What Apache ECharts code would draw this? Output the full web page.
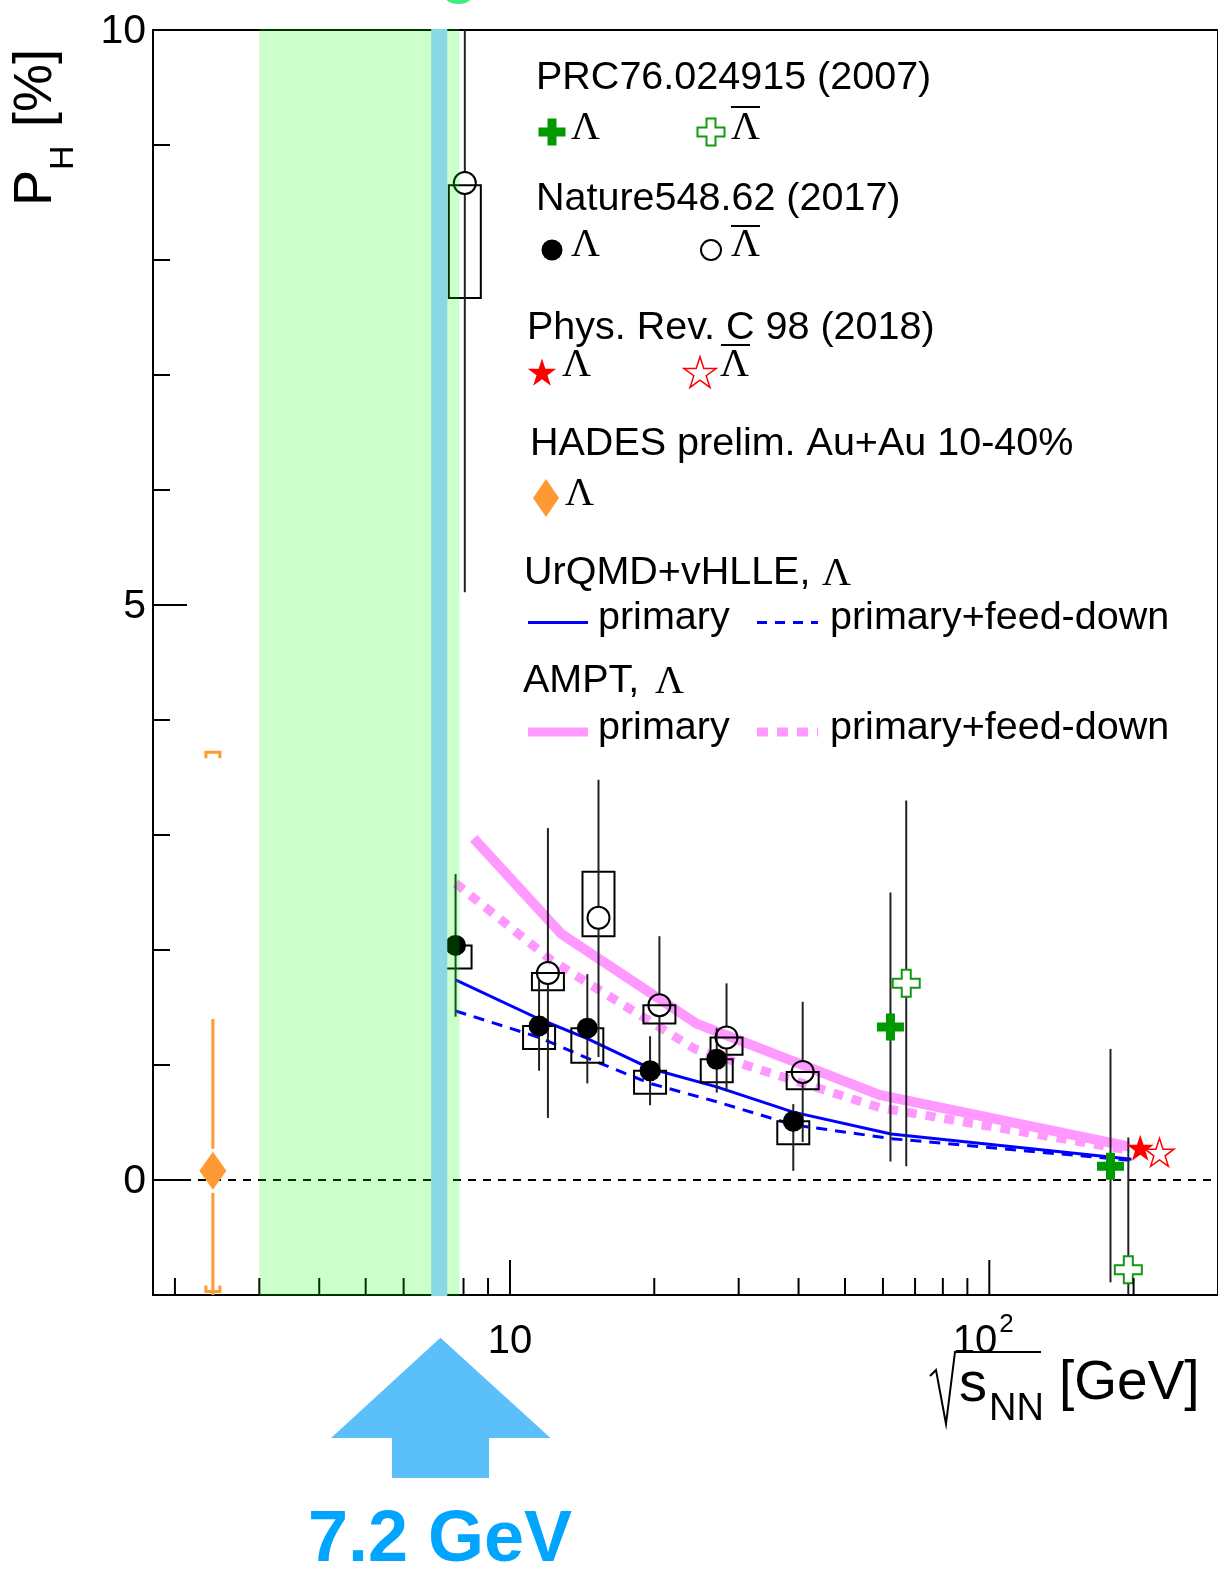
<!DOCTYPE html>
<html><head><meta charset="utf-8">
<script src="https://cdn.jsdelivr.net/npm/echarts/dist/echarts.min.js"></script>
<style>html,body{margin:0;padding:0;background:#fff}#c{width:1218px;height:1569px}</style>
</head><body><div id="c"></div>
<script>
const FONT = 'Liberation Sans, Arial, Helvetica, sans-serif';
const SERIF = 'Liberation Serif, Times New Roman, serif';

// ---- axes ----
const xMin = 1.8, xMax = 300, yMin = -1, yMax = 10;
const xMinorTicks = [2,3,4,5,6,7,8,9,20,30,40,50,60,70,80,90,200];
const xMajorTicks = [10,100];
const xTickLabelBase = ['10','10'];
const xTickLabelExp = ['','2'];
const yMinorTicks = [1,2,3,4,6,7,8,9];
const yMajorTicks = [0,5,10];
const yTickLabels = ['0','5','10'];

// ---- shaded bands ----
const greenBand = [3.0, 7.85];
const blueBand = [6.85, 7.4];

// ---- STAR, Nature 548, 62 (2017) ----
const natureLamE = [7.7, 11.5, 14.5, 19.6, 27, 39];
const natureLamP = [2.04, 1.34, 1.32, 0.95, 1.05, 0.51];
const natureLamStatLo = [1.42, 0.95, 0.84, 0.65, 0.76, 0.08];
const natureLamStatHi = [2.66, 1.74, 1.79, 1.25, 1.32, 0.66];
const natureLamSysLo = [1.84, 1.14, 1.02, 0.75, 0.85, 0.31];
const natureLamSysHi = [2.04, 1.34, 1.32, 0.95, 1.05, 0.51];

const natureAntiE = [8.05, 12.0, 15.3, 20.5, 28.3, 40.8];
const natureAntiP = [8.67, 1.80, 2.28, 1.52, 1.24, 0.94];
const natureAntiStatLo = [5.11, 0.54, 1.07, 0.91, 0.77, 0.33];
const natureAntiStatHi = [12.2, 3.06, 3.48, 2.12, 1.71, 1.55];
const natureAntiSysLo = [7.67, 1.65, 2.12, 1.36, 1.09, 0.79];
const natureAntiSysHi = [8.65, 1.80, 2.68, 1.52, 1.24, 0.94];

// ---- STAR, PRC 76, 024915 (2007) ----
const prcLamE = [62.2, 179];
const prcLamP = [1.33, 0.12];
const prcLamStatLo = [0.16, -0.89];
const prcLamStatHi = [2.50, 1.14];
const prcAntiE = [67.1, 195];
const prcAntiP = [1.71, -0.78];
const prcAntiStatLo = [0.12, -1.93];
const prcAntiStatHi = [3.30, 0.37];

// ---- STAR, Phys. Rev. C 98 (2018) ----
const prc98LamE = [206.5];
const prc98LamP = [0.28];
const prc98AntiE = [226.5];
const prc98AntiP = [0.24];

// ---- HADES preliminary ----
const hadesE = [2.4];
const hadesP = [0.08];
const hadesStatLo = [-1.24];
const hadesStatHi = [1.40];
const hadesSysLo = [-0.97];
const hadesSysHi = [3.72];

// ---- models ----
const urqmdE = [7.7, 11.5, 14.5, 19.6, 27, 39, 62.4, 198];
const urqmdPrim = [1.74, 1.40, 1.23, 0.97, 0.81, 0.59, 0.40, 0.18];
const urqmdFeed = [1.47, 1.24, 1.06, 0.84, 0.68, 0.48, 0.36, 0.17];
const amptPrimE = [8.4, 12.8, 24.5, 59, 196];
const amptPrim = [2.97, 2.14, 1.36, 0.74, 0.29];
const amptFeedE = [7.7, 12.2, 24.3, 59, 196];
const amptFeed = [2.58, 1.91, 1.14, 0.63, 0.26];

// ---------------------------------------------------------------
const pair = (E, P) => E.map((e, i) => [e, P[i]]);
const errData = (E, lo, hi, P) => E.map((e, i) => [e, lo[i], hi[i], P[i]]);
const boxData = (E, lo, hi) => E.map((e, i) => [e, lo[i], hi[i]]);
const clampY = v => Math.max(yMin, Math.min(yMax, v));

function errSeries(data, color, width, gap, z) {
  return {
    type: 'custom', coordinateSystem: 'cartesian2d', z: z, silent: true, data: data,
    encode: { x: 0, y: 3 },
    renderItem: function (params, api) {
      const x = api.value(0), lo = clampY(api.value(1)), hi = clampY(api.value(2)), p = api.value(3);
      const a = api.coord([x, hi]), b = api.coord([x, lo]), c = api.coord([x, p]);
      const st = { stroke: color, lineWidth: width };
      if (!gap) return { type: 'line', shape: { x1: a[0], y1: a[1], x2: b[0], y2: b[1] }, style: st };
      const ch = [];
      if (a[1] < c[1] - gap) ch.push({ type: 'line', shape: { x1: a[0], y1: a[1], x2: a[0], y2: c[1] - gap }, style: st });
      if (b[1] > c[1] + gap) ch.push({ type: 'line', shape: { x1: b[0], y1: c[1] + gap, x2: b[0], y2: b[1] }, style: st });
      return { type: 'group', children: ch };
    }
  };
}
function boxSeries(data, z) {
  return {
    type: 'custom', coordinateSystem: 'cartesian2d', z: z, silent: true, data: data,
    encode: { x: 0, y: 2 },
    renderItem: function (params, api) {
      const x = api.value(0);
      const a = api.coord([x, clampY(api.value(2))]), b = api.coord([x, clampY(api.value(1))]);
      return { type: 'rect', shape: { x: a[0] - 16, y: a[1], width: 32, height: b[1] - a[1] },
        style: { fill: 'none', stroke: '#000', lineWidth: 2 } };
    }
  };
}
function bandSeries(band, fill, z) {
  return {
    type: 'custom', coordinateSystem: 'cartesian2d', z: z, silent: true,
    data: [[band[0], yMax, band[1], yMin]],
    encode: { x: 0, y: 1 },
    renderItem: function (params, api) {
      const a = api.coord([api.value(0), yMax]), b = api.coord([api.value(2), yMin]);
      return { type: 'rect', shape: { x: a[0], y: a[1] - 1, width: b[0] - a[0], height: b[1] - a[1] + 2 }, style: { fill: fill } };
    }
  };
}

const crossPath = 'path://M3,0H6V3H9V6H6V9H3V6H0V3H3Z';
const starPath = 'path://M50,0L61.8,35.1L98.1,35.1L68.7,56.7L79.4,91L50,70L20.6,91L31.3,56.7L1.9,35.1L38.2,35.1Z';

const xTickData = xMinorTicks.map(v => [v, yMin, 0]).concat(xMajorTicks.map(v => [v, yMin, 1]));
const yTickData = yMinorTicks.map(v => [xMin, v, 0]).concat(yMajorTicks.map(v => [xMin, v, 1]));

const series = [
  // zero line
  { type: 'line', z: 2, silent: true, data: pair([xMin, xMax], [0, 0]), symbol: 'none',
    lineStyle: { color: '#000', width: 2, type: [8, 7] } },
  // models
  { type: 'line', z: 2, silent: true, data: pair(amptPrimE, amptPrim), symbol: 'none',
    lineStyle: { color: '#ff99ff', width: 10, join: 'miter' } },
  { type: 'line', z: 2, silent: true, data: pair(amptFeedE, amptFeed), symbol: 'none',
    lineStyle: { color: '#ff99ff', width: 9, type: [10, 9] } },
  { type: 'line', z: 2, silent: true, data: pair(urqmdE, urqmdPrim), symbol: 'none',
    lineStyle: { color: '#0000ff', width: 3 } },
  { type: 'line', z: 2, silent: true, data: pair(urqmdE, urqmdFeed), symbol: 'none',
    lineStyle: { color: '#0000ff', width: 3, type: [11, 8] } },
  // systematic boxes
  boxSeries(boxData(natureLamE, natureLamSysLo, natureLamSysHi), 3),
  boxSeries(boxData(natureAntiE, natureAntiSysLo, natureAntiSysHi), 3),
  // error bars
  errSeries(errData(natureLamE, natureLamStatLo, natureLamStatHi, natureLamP), '#222', 2, 0, 4),
  errSeries(errData(natureAntiE, natureAntiStatLo, natureAntiStatHi, natureAntiP), '#222', 2, 11, 4),
  errSeries(errData(prcLamE, prcLamStatLo, prcLamStatHi, prcLamP), '#222', 2, 0, 4),
  errSeries(errData(prcAntiE, prcAntiStatLo, prcAntiStatHi, prcAntiP), '#222', 2, 0, 4),
  errSeries(errData(hadesE, hadesStatLo, hadesStatHi, hadesP), '#ff9933', 3, 22, 4),
  // HADES systematic brackets
  { type: 'custom', coordinateSystem: 'cartesian2d', z: 4, silent: true,
    data: boxData(hadesE, hadesSysLo, hadesSysHi), encode: { x: 0, y: 2 },
    renderItem: function (params, api) {
      const x = api.value(0);
      const t = api.coord([x, clampY(api.value(2))]), b = api.coord([x, clampY(api.value(1))]);
      const st = { stroke: '#ff9933', lineWidth: 3, fill: 'none' };
      return { type: 'group', children: [
        { type: 'polyline', shape: { points: [[t[0] - 7, t[1] + 6], [t[0] - 7, t[1]], [t[0] + 7, t[1]], [t[0] + 7, t[1] + 6]] }, style: st },
        { type: 'polyline', shape: { points: [[b[0] - 7, b[1] - 6], [b[0] - 7, b[1]], [b[0] + 7, b[1]], [b[0] + 7, b[1] - 6]] }, style: st }
      ] };
    } },
  // markers
  { type: 'scatter', z: 5, silent: true, data: pair(natureLamE, natureLamP), symbol: 'circle', symbolSize: 21,
    itemStyle: { color: '#000', opacity: 1 } },
  { type: 'scatter', z: 5, silent: true, data: pair(natureAntiE, natureAntiP), symbol: 'circle', symbolSize: 22,
    itemStyle: { color: 'rgba(0,0,0,0)', borderColor: '#000', borderWidth: 2, opacity: 1 } },
  { type: 'scatter', z: 5, silent: true, data: pair(prcLamE, prcLamP), symbol: crossPath, symbolSize: 27,
    itemStyle: { color: '#009900', opacity: 1 } },
  { type: 'scatter', z: 5, silent: true, data: pair(prcAntiE, prcAntiP), symbol: crossPath, symbolSize: 27,
    itemStyle: { color: '#ffffff', borderColor: '#119911', borderWidth: 2, opacity: 1 } },
  { type: 'scatter', z: 5, silent: true, data: pair(prc98LamE, prc98LamP), symbol: starPath, symbolSize: [27, 26],
    itemStyle: { color: '#ff0000', opacity: 1 } },
  { type: 'scatter', z: 5, silent: true, data: pair(prc98AntiE, prc98AntiP), symbol: starPath, symbolSize: [29, 28],
    itemStyle: { color: 'rgba(0,0,0,0)', borderColor: '#ff0000', borderWidth: 1.5, opacity: 1 } },
  { type: 'scatter', z: 5, silent: true, data: pair(hadesE, hadesP), symbol: 'diamond', symbolSize: [27, 38],
    itemStyle: { color: '#ff9933', opacity: 1 } },
  // ticks
  { type: 'custom', coordinateSystem: 'cartesian2d', z: 6, silent: true, data: xTickData,
    renderItem: function (params, api) {
      const p = api.coord([api.value(0), yMin]); const len = api.value(2) ? 35 : 17;
      return { type: 'line', shape: { x1: p[0], y1: p[1], x2: p[0], y2: p[1] - len }, style: { stroke: '#000', lineWidth: 2 } };
    } },
  { type: 'custom', coordinateSystem: 'cartesian2d', z: 6, silent: true, data: yTickData,
    renderItem: function (params, api) {
      const p = api.coord([xMin, api.value(1)]); const len = api.value(2) ? 34 : 17;
      return { type: 'line', shape: { x1: p[0], y1: p[1], x2: p[0] + len, y2: p[1] }, style: { stroke: '#000', lineWidth: 2 } };
    } },
  // tick labels
  { type: 'custom', coordinateSystem: 'cartesian2d', z: 6, silent: true,
    data: yMajorTicks.map((v, i) => [xMin, v, i]),
    renderItem: function (params, api) {
      const p = api.coord([xMin, api.value(1)]);
      return { type: 'text', x: p[0] - 7, y: p[1] + 2,
        style: { text: yTickLabels[api.value(2)], fontSize: 41, fontFamily: FONT, fill: '#000',
          align: 'right', textAlign: 'right', verticalAlign: 'middle', textVerticalAlign: 'middle' } };
    } },
  { type: 'custom', coordinateSystem: 'cartesian2d', z: 6, silent: true,
    data: xMajorTicks.map((v, i) => [v, yMin, i]),
    renderItem: function (params, api) {
      const p = api.coord([api.value(0), yMin]); const i = api.value(2);
      const base = xTickLabelBase[i], ex = xTickLabelExp[i];
      const baseline = p[1] + 61;
      if (!ex) {
        return { type: 'text', x: p[0], y: baseline - 0.3465 * 40,
          style: { text: base, fontSize: 40, fontFamily: FONT, fill: '#000', align: 'center', textAlign: 'center', verticalAlign: 'middle', textVerticalAlign: 'middle' } };
      }
      return { type: 'group', children: [
        { type: 'text', x: p[0] + 8, y: baseline - 0.3465 * 40,
          style: { text: base, fontSize: 40, fontFamily: FONT, fill: '#000', align: 'right', textAlign: 'right', verticalAlign: 'middle', textVerticalAlign: 'middle' } },
        { type: 'text', x: p[0] + 10, y: baseline - 22 - 0.3465 * 26,
          style: { text: ex, fontSize: 26, fontFamily: FONT, fill: '#000', align: 'left', textAlign: 'left', verticalAlign: 'middle', textVerticalAlign: 'middle' } }
      ] };
    } },
  // bands (drawn over the data, translucent green + cyan)
  bandSeries(greenBand, 'rgba(0,255,0,0.2)', 8),
  bandSeries(blueBand, '#8ad8e6', 9)
];

// ---- annotation / legend graphics ----
function txt(s, x, base, size, opt) {
  opt = opt || {};
  const fam = opt.serif ? SERIF : FONT;
  const k = opt.serif ? 0.3375 : 0.3465;
  return { type: 'text', x: x, y: base - k * size, z: 100, silent: true,
    style: { text: s, fontSize: size, fontFamily: fam, fontWeight: opt.weight || 'normal', fill: opt.color || '#000',
      align: opt.align || 'left', textAlign: opt.align || 'left', verticalAlign: 'middle', textVerticalAlign: 'middle' } };
}
function rtxt(s, baseX, startY, size) {
  return { type: 'text', x: baseX - 0.3465 * size, y: startY, rotation: Math.PI / 2, z: 100, silent: true,
    style: { text: s, fontSize: size, fontFamily: FONT, fill: '#000', align: 'left', textAlign: 'left', verticalAlign: 'middle', textVerticalAlign: 'middle' } };
}
function line(x1, y1, x2, y2, color, w, dash) {
  return { type: 'line', z: 100, silent: true, shape: { x1: x1, y1: y1, x2: x2, y2: y2 },
    style: { stroke: color, lineWidth: w, lineDash: dash || null } };
}
function crossPts(cx, cy, s) {
  const h = s / 2, a = s / 6;
  return [[cx - a, cy - h], [cx + a, cy - h], [cx + a, cy - a], [cx + h, cy - a], [cx + h, cy + a], [cx + a, cy + a],
    [cx + a, cy + h], [cx - a, cy + h], [cx - a, cy + a], [cx - h, cy + a], [cx - h, cy - a], [cx - a, cy - a]];
}
function starPts(cx, cy, R) {
  const pts = [], r = R * 0.382;
  for (let i = 0; i < 10; i++) {
    const ang = -Math.PI / 2 + i * Math.PI / 5, rr = i % 2 ? r : R;
    pts.push([cx + rr * Math.cos(ang), cy + rr * Math.sin(ang) + R * 0.1]);
  }
  return pts;
}
function poly(pts, fill, stroke, w) {
  return { type: 'polygon', z: 100, silent: true, shape: { points: pts },
    style: { fill: fill, stroke: stroke || null, lineWidth: w || 0 } };
}

const LF = 39.5; // legend font size
const graphics = [
  // cut-off green label at top (only the descender of the "g" is inside the page)
  txt('g', 459, -6, 72, { color: '#3cee7c', align: 'center' }),
  // y title
  rtxt('P', 55, 206, 54),
  rtxt('H', 75, 170, 34),
  rtxt('[%]', 55, 127, 54),
  // x title
  { type: 'polyline', z: 100, silent: true, shape: { points: [[930, 1376], [936, 1370], [946, 1424], [955, 1352], [1041, 1352]] },
    style: { stroke: '#000', lineWidth: 2, fill: 'none' } },
  txt('s', 959, 1405, 56),
  txt('NN', 989, 1423, 38),
  txt('[GeV]', 1059, 1403, 55),
  // arrow and label
  poly([[440.4, 1337.7], [550.5, 1438], [489, 1438], [489, 1478], [392, 1478], [392, 1438], [331, 1438]], '#5bbffa'),
  txt('7.2 GeV', 440, 1566, 72, { color: '#00a5ff', align: 'center', weight: 'bold' }),
  // legend block 1
  txt('PRC76.024915 (2007)', 536, 92, LF),
  poly(crossPts(552, 132, 27), '#009900'),
  txt('Λ', 571, 142, 40, { serif: true }),
  poly(crossPts(711, 132, 27), '#ffffff', '#119911', 2),
  txt('Λ', 731, 142, 40, { serif: true }),
  line(731, 107, 760, 107, '#000', 2),
  // legend block 2
  txt('Nature548.62 (2017)', 536, 213, LF),
  { type: 'circle', z: 100, silent: true, shape: { cx: 552, cy: 250, r: 10.5 }, style: { fill: '#000' } },
  txt('Λ', 571, 259, 40, { serif: true }),
  { type: 'circle', z: 100, silent: true, shape: { cx: 711, cy: 250, r: 10 }, style: { fill: 'none', stroke: '#000', lineWidth: 2 } },
  txt('Λ', 731, 259, 40, { serif: true }),
  line(731, 226, 760, 226, '#000', 2),
  // legend block 3
  txt('Phys. Rev. C 98 (2018)', 527, 342, LF),
  poly(starPts(542, 372, 15), '#ff0000'),
  txt('Λ', 562, 379, 40, { serif: true }),
  poly(starPts(700, 372, 17), 'none', '#ff0000', 1.5),
  txt('Λ', 720, 379, 40, { serif: true }),
  line(721, 345, 750, 345, '#000', 2),
  // legend block 4
  txt('HADES prelim. Au+Au 10-40%', 530, 458, LF),
  poly([[546, 479], [559, 498], [546, 517], [533, 498]], '#ff9933'),
  txt('Λ', 565, 508, 40, { serif: true }),
  // models legend
  txt('UrQMD+vHLLE,', 524, 587, LF),
  txt('Λ', 822, 588, 40, { serif: true }),
  line(528, 622.5, 588, 622.5, '#0000ff', 3),
  txt('primary', 598, 632, LF),
  line(757, 622.5, 818, 622.5, '#0000ff', 3, [10, 8]),
  txt('primary+feed-down', 830, 632, LF),
  txt('AMPT,', 523, 695, LF),
  txt('Λ', 655, 696, 40, { serif: true }),
  line(528, 732, 588, 732, '#ff99ff', 9),
  txt('primary', 598, 742, LF),
  line(757, 732, 818, 732, '#ff99ff', 9, [11, 9]),
  txt('primary+feed-down', 830, 742, LF)
];

const chart = echarts.init(document.getElementById('c'), null, { renderer: 'canvas' });
chart.setOption({
  animation: false,
  backgroundColor: '#fff',
  grid: { left: 153, top: 30, right: -4, bottom: 274, show: true, borderColor: '#000', borderWidth: 2, backgroundColor: 'rgba(0,0,0,0)' },
  xAxis: { type: 'log', logBase: 10, min: xMin, max: xMax,
    axisLine: { show: false }, axisTick: { show: false }, axisLabel: { show: false }, splitLine: { show: false }, minorTick: { show: false } },
  yAxis: { type: 'value', min: yMin, max: yMax,
    axisLine: { show: false }, axisTick: { show: false }, axisLabel: { show: false }, splitLine: { show: false } },
  tooltip: { show: false },
  series: series,
  graphic: { elements: graphics }
});
</script></body></html>
